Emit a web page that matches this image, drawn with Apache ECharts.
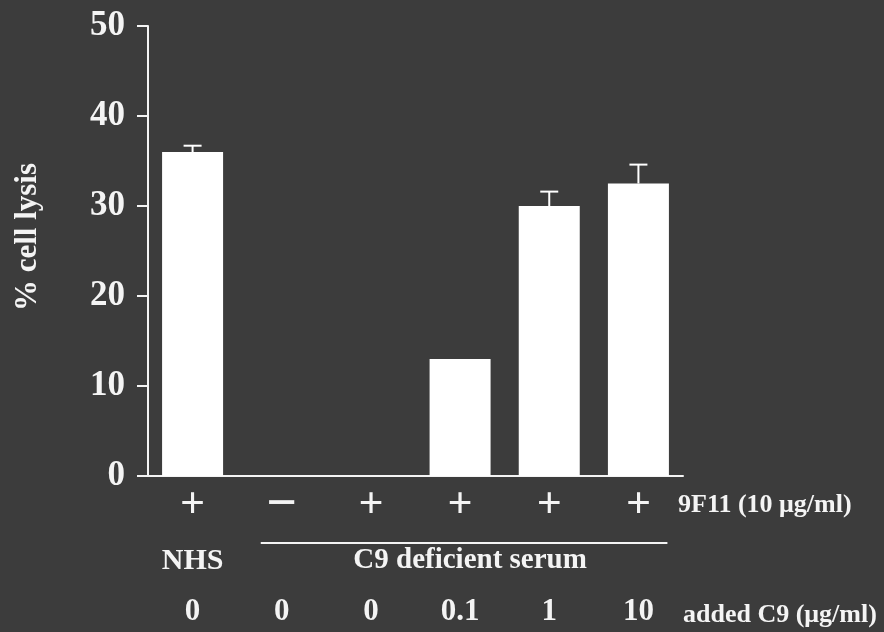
<!DOCTYPE html>
<html><head><meta charset="utf-8">
<script src="https://cdn.jsdelivr.net/npm/echarts@6/dist/echarts.min.js"></script>
<style>html,body{margin:0;padding:0;background:#3c3c3c}#c{width:884px;height:632px}</style>
</head><body><div id="c"></div>
<script>
// Data
const antibody = ['+', '−', '+', '+', '+', '+'];      // 9F11 (10 µg/ml)
const serum = ['NHS', '', '', '', '', ''];
const addedC9 = ['0', '0', '0', '0.1', '1', '10'];    // added C9 (µg/ml)
const lysis = [36, 0, 0, 13, 30, 32.5];               // % cell lysis
const lysisErr = [0.7, 0, 0, 0, 1.6, 2.1];
const yMin = 0, yMax = 50, yStep = 10;

const FONT = '"Liberation Serif", "Times New Roman", serif';
const WHITE = '#f4f4f4';
const chart = echarts.init(document.getElementById('c'));
const idx = lysis.map((_, i) => i);

chart.setOption({
  backgroundColor: '#3c3c3c',
  animation: false,
  grid: { left: 148, right: 201, top: 26, bottom: 156 },
  xAxis: {
    type: 'category',
    data: idx,
    axisLine: { lineStyle: { color: WHITE, width: 2 } },
    axisTick: { alignWithLabel: true, length: 9, lineStyle: { color: WHITE, width: 2 } },
    axisLabel: {
      interval: 0, margin: 4, color: WHITE, fontFamily: FONT,
      formatter: (v, i) => `{${antibody[i] === '+' ? 'a' : 'm'}|${antibody[i]}}\n{b|${serum[i] || ' '}}\n{c|${addedC9[i]}}`,
      rich: {
        a: { fontSize: 44, fontWeight: 'bold', lineHeight: 52, color: WHITE, fontFamily: FONT },
        m: { fontSize: 54, fontWeight: 'bold', lineHeight: 52, color: WHITE, fontFamily: FONT },
        b: { fontSize: 30, fontWeight: 'bold', lineHeight: 58, color: WHITE, fontFamily: FONT },
        c: { fontSize: 31, fontWeight: 'bold', lineHeight: 44, color: WHITE, fontFamily: FONT }
      }
    }
  },
  yAxis: {
    type: 'value', min: yMin, max: yMax, interval: yStep,
    axisLine: { show: true, lineStyle: { color: WHITE, width: 2 } },
    axisTick: { show: true, length: 11, lineStyle: { color: WHITE, width: 2 } },
    splitLine: { show: false },
    axisLabel: { color: WHITE, fontFamily: FONT, fontWeight: 'bold', fontSize: 35, margin: 23 }
  },
  series: [
    {
      type: 'bar', data: lysis, barWidth: 61,
      itemStyle: { color: '#ffffff' }
    },
    {
      type: 'custom',
      data: idx.map(i => [i, lysis[i], lysisErr[i]]),
      renderItem: (params, api) => {
        const err = api.value(2);
        if (!err) return;
        const base = api.coord([api.value(0), api.value(1)]);
        const top = api.coord([api.value(0), api.value(1) + err]);
        const style = { stroke: '#ffffff', lineWidth: 2 };
        return {
          type: 'group',
          children: [
            { type: 'line', shape: { x1: base[0], y1: base[1], x2: top[0], y2: top[1] }, style },
            { type: 'line', shape: { x1: top[0] - 9, y1: top[1], x2: top[0] + 9, y2: top[1] }, style }
          ]
        };
      },
      z: 5
    }
  ]
});

const px = i => chart.convertToPixel({ xAxisIndex: 0 }, i);
const x1 = px(1), x5 = px(5);
chart.setOption({
  graphic: [
    { type: 'text', x: 28, y: 237, rotation: Math.PI / 2,
      style: { text: '% cell lysis', fill: WHITE, font: `bold 31px ${FONT}`, align: 'center', verticalAlign: 'middle' } },
    { type: 'line', shape: { x1: x1 - 21, y1: 543, x2: x5 + 29, y2: 543 }, style: { stroke: WHITE, lineWidth: 2 } },
    { type: 'text', x: (x1 + x5) / 2 + 10, y: 561,
      style: { text: 'C9 deficient serum', fill: WHITE, font: `bold 29px ${FONT}`, align: 'center', verticalAlign: 'middle' } },
    { type: 'text', x: 678, y: 505,
      style: { text: '9F11 (10 μg/ml)', fill: WHITE, font: `bold 26px ${FONT}`, align: 'left', verticalAlign: 'middle' } },
    { type: 'text', x: 683, y: 615,
      style: { text: 'added C9 (μg/ml)', fill: WHITE, font: `bold 26px ${FONT}`, align: 'left', verticalAlign: 'middle' } }
  ]
});
</script></body></html>
